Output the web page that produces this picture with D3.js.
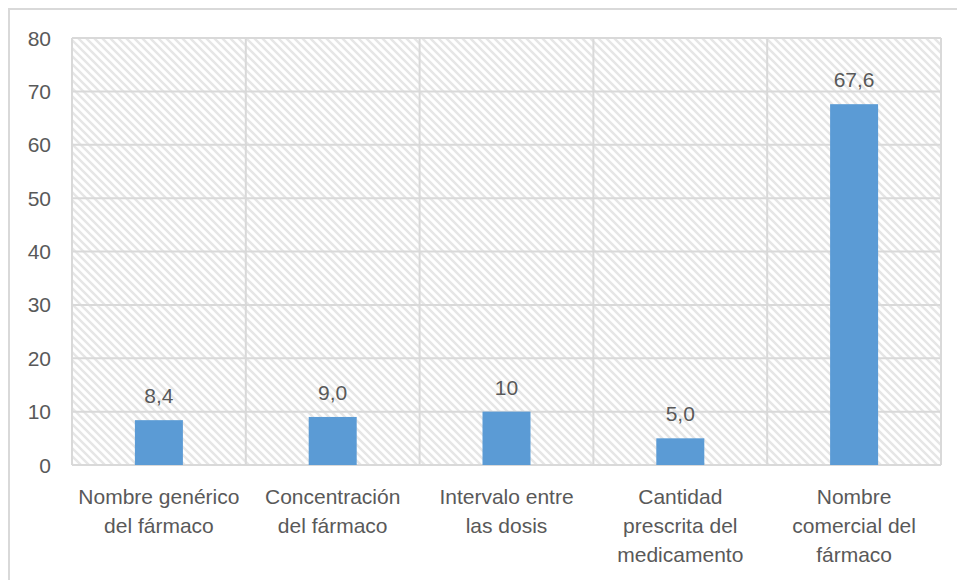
<!DOCTYPE html>
<html><head><meta charset="utf-8">
<script src="https://cdn.jsdelivr.net/npm/d3@7"></script>
<style>body{margin:0;background:#fff}svg{display:block}text{font-family:"Liberation Sans",Arial,sans-serif;fill:#595959}</style>
</head><body><svg id="c" width="957" height="580"></svg>
<script>
const categories = ["Nombre genérico\ndel fármaco","Concentración\ndel fármaco","Intervalo entre\nlas dosis","Cantidad\nprescrita del\nmedicamento","Nombre\ncomercial del\nfármaco"];
const values = [8.4, 9.0, 10, 5.0, 67.6];
const valueLabels = ["8,4","9,0","10","5,0","67,6"];
const yTicks = [0,10,20,30,40,50,60,70,80];

const svg = d3.select("#c");
const m = {l:72, r:941, t:38, b:465};
const grid = "#d9d9d9";

// outer border
svg.append("rect").attr("x",9).attr("y",9).attr("width",1000).attr("height",1000)
  .attr("fill","none").attr("stroke",grid).attr("stroke-width",2);

const defs = svg.append("defs");
const pat = defs.append("pattern").attr("id","hatch").attr("patternUnits","userSpaceOnUse")
  .attr("width",8).attr("height",8);
pat.append("rect").attr("width",8).attr("height",8).attr("fill","#fff");
pat.append("path").attr("d","M-2,-2 L10,10 M-2,6 L2,10 M6,-2 L10,2").attr("stroke","#e6e6e6").attr("stroke-width",2.4);

const x = d3.scaleBand().domain(categories).range([m.l,m.r]).paddingInner(0).paddingOuter(0);
const y = d3.scaleLinear().domain([0,80]).range([m.b,m.t]);

svg.append("rect").attr("x",m.l).attr("y",m.t).attr("width",m.r-m.l).attr("height",m.b-m.t).attr("fill","url(#hatch)");

// horizontal gridlines
svg.append("g").selectAll("line").data(yTicks).join("line")
  .attr("x1",m.l).attr("x2",m.r).attr("y1",d=>y(d)).attr("y2",d=>y(d))
  .attr("stroke",grid).attr("stroke-width",2);
// vertical gridlines
const vb = categories.map(c=>x(c)).concat([m.r]);
svg.append("g").selectAll("line").data(vb).join("line")
  .attr("x1",d=>d).attr("x2",d=>d).attr("y1",m.t).attr("y2",m.b)
  .attr("stroke",grid).attr("stroke-width",2);

// y tick labels
svg.append("g").selectAll("text").data(yTicks).join("text")
  .attr("x",51).attr("y",d=>y(d)).attr("dy","0.36em").attr("text-anchor","end")
  .attr("font-size",21).text(d=>d);

// bars
const bw = 48;
svg.append("g").selectAll("rect").data(values).join("rect")
  .attr("x",(d,i)=>x(categories[i])+x.bandwidth()/2-bw/2)
  .attr("width",bw)
  .attr("y",d=>y(d)).attr("height",d=>y(0)-y(d))
  .attr("fill","#5B9BD5");

// data labels
svg.append("g").selectAll("text").data(values).join("text")
  .attr("x",(d,i)=>x(categories[i])+x.bandwidth()/2)
  .attr("y",d=>y(d)-17).attr("text-anchor","middle").attr("font-size",21)
  .text((d,i)=>valueLabels[i]);

// category labels
const cg = svg.append("g").selectAll("text").data(categories).join("text")
  .attr("x",d=>x(d)+x.bandwidth()/2).attr("y",504).attr("text-anchor","middle").attr("font-size",21);
cg.each(function(d){
  const t = d3.select(this);
  d.split("\n").forEach((ln,i)=>{
    t.append("tspan").attr("x",x(d)+x.bandwidth()/2).attr("y",504+i*29).text(ln);
  });
});
</script></body></html>
